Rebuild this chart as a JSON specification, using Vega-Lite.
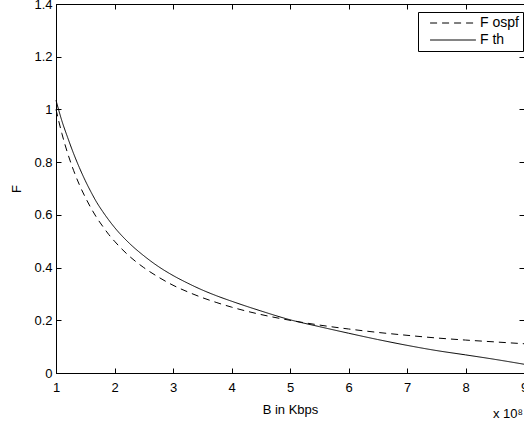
{
  "$schema": "https://vega.github.io/schema/vega-lite/v6.json",
  "width": 468,
  "height": 369,
  "autosize": "none",
  "padding": {"left": 56, "top": 4, "right": 0, "bottom": 52},
  "background": "white",
  "title": {"text": "x 10⁸", "orient": "bottom", "anchor": "end", "frame": "group", "fontSize": 13, "fontWeight": "normal", "font": "Liberation Sans", "color": "black", "offset": -8, "dx": -1},
  "config": {
    "view": {"stroke": "black", "strokeWidth": 1},
    "axis": {"grid": false, "domainColor": "black", "tickColor": "black", "labelColor": "black", "titleColor": "black", "labelFont": "Liberation Sans", "titleFont": "Liberation Sans", "labelFontSize": 13, "titleFontSize": 13, "titleFontWeight": "normal", "tickSize": -5, "labelFlush": false, "labelOverlap": false},
    "legend": {"labelFont": "Liberation Sans", "labelFontSize": 14, "labelColor": "black"}
  },
  "resolve": {"axis": {"x": "independent", "y": "independent"}},
  "data": {"values": [
    {"B": 1.0, "F": 1.0, "series": "F ospf"},
    {"B": 1.1, "F": 0.909, "series": "F ospf"},
    {"B": 1.2, "F": 0.833, "series": "F ospf"},
    {"B": 1.3, "F": 0.769, "series": "F ospf"},
    {"B": 1.4, "F": 0.714, "series": "F ospf"},
    {"B": 1.5, "F": 0.667, "series": "F ospf"},
    {"B": 1.6, "F": 0.625, "series": "F ospf"},
    {"B": 1.7, "F": 0.588, "series": "F ospf"},
    {"B": 1.8, "F": 0.556, "series": "F ospf"},
    {"B": 1.9, "F": 0.526, "series": "F ospf"},
    {"B": 2.0, "F": 0.5, "series": "F ospf"},
    {"B": 2.25, "F": 0.444, "series": "F ospf"},
    {"B": 2.5, "F": 0.4, "series": "F ospf"},
    {"B": 2.75, "F": 0.364, "series": "F ospf"},
    {"B": 3.0, "F": 0.333, "series": "F ospf"},
    {"B": 3.25, "F": 0.308, "series": "F ospf"},
    {"B": 3.5, "F": 0.286, "series": "F ospf"},
    {"B": 3.75, "F": 0.267, "series": "F ospf"},
    {"B": 4.0, "F": 0.25, "series": "F ospf"},
    {"B": 4.5, "F": 0.222, "series": "F ospf"},
    {"B": 5.0, "F": 0.2, "series": "F ospf"},
    {"B": 5.5, "F": 0.182, "series": "F ospf"},
    {"B": 6.0, "F": 0.167, "series": "F ospf"},
    {"B": 6.5, "F": 0.154, "series": "F ospf"},
    {"B": 7.0, "F": 0.143, "series": "F ospf"},
    {"B": 7.5, "F": 0.133, "series": "F ospf"},
    {"B": 8.0, "F": 0.125, "series": "F ospf"},
    {"B": 8.5, "F": 0.118, "series": "F ospf"},
    {"B": 9.0, "F": 0.111, "series": "F ospf"},
    {"B": 1.0, "F": 1.035, "series": "F th"},
    {"B": 1.1, "F": 0.957, "series": "F th"},
    {"B": 1.2, "F": 0.893, "series": "F th"},
    {"B": 1.3, "F": 0.833, "series": "F th"},
    {"B": 1.4, "F": 0.779, "series": "F th"},
    {"B": 1.5, "F": 0.73, "series": "F th"},
    {"B": 1.6, "F": 0.686, "series": "F th"},
    {"B": 1.7, "F": 0.646, "series": "F th"},
    {"B": 1.8, "F": 0.612, "series": "F th"},
    {"B": 1.9, "F": 0.581, "series": "F th"},
    {"B": 2.0, "F": 0.5525, "series": "F th"},
    {"B": 2.25, "F": 0.493, "series": "F th"},
    {"B": 2.5, "F": 0.445, "series": "F th"},
    {"B": 2.75, "F": 0.404, "series": "F th"},
    {"B": 3.0, "F": 0.37, "series": "F th"},
    {"B": 3.25, "F": 0.341, "series": "F th"},
    {"B": 3.5, "F": 0.315, "series": "F th"},
    {"B": 3.75, "F": 0.2925, "series": "F th"},
    {"B": 4.0, "F": 0.2725, "series": "F th"},
    {"B": 4.5, "F": 0.2356, "series": "F th"},
    {"B": 5.0, "F": 0.202, "series": "F th"},
    {"B": 5.5, "F": 0.176, "series": "F th"},
    {"B": 6.0, "F": 0.151, "series": "F th"},
    {"B": 6.5, "F": 0.127, "series": "F th"},
    {"B": 7.0, "F": 0.105, "series": "F th"},
    {"B": 7.5, "F": 0.0853, "series": "F th"},
    {"B": 8.0, "F": 0.0688, "series": "F th"},
    {"B": 8.5, "F": 0.0518, "series": "F th"},
    {"B": 9.0, "F": 0.0333, "series": "F th"}
  ]},
  "layer": [
    {
      "mark": {"type": "line", "strokeWidth": 1, "interpolate": "monotone", "color": "black"},
      "encoding": {
        "x": {"field": "B", "type": "quantitative", "scale": {"domain": [1, 9], "nice": false, "zero": false}, "axis": {"title": "B in Kbps", "values": [1, 2, 3, 4, 5, 6, 7, 8, 9], "labelPadding": 13, "titlePadding": 9}},
        "y": {"field": "F", "type": "quantitative", "scale": {"domain": [0, 1.4], "nice": false}, "axis": {"title": "F", "values": [0, 0.2, 0.4, 0.6, 0.8, 1, 1.2, 1.4], "format": "~g", "labelPadding": 9, "titlePadding": 10}},
        "strokeDash": {"field": "series", "type": "nominal", "scale": {"domain": ["F ospf", "F th"], "range": [[7, 5], [1, 0]]}, "legend": {"title": null, "orient": "none", "legendX": 362, "legendY": 8, "symbolType": "M-5,0H5", "symbolSize": 84, "symbolFillColor": "transparent", "symbolStrokeColor": "black", "symbolStrokeWidth": 1, "symbolOffset": 24, "strokeColor": "black", "fillColor": "white", "padding": 4, "rowPadding": 3, "labelOffset": 20}},
        "detail": {"field": "series"}
      }
    },
    {
      "mark": {"type": "point", "opacity": 0},
      "encoding": {
        "x": {"field": "B", "type": "quantitative", "axis": {"orient": "top", "labels": false, "title": null, "values": [1, 2, 3, 4, 5, 6, 7, 8, 9]}},
        "y": {"field": "F", "type": "quantitative", "axis": {"orient": "right", "labels": false, "title": null, "values": [0, 0.2, 0.4, 0.6, 0.8, 1, 1.2, 1.4]}}
      }
    }
  ]
}
